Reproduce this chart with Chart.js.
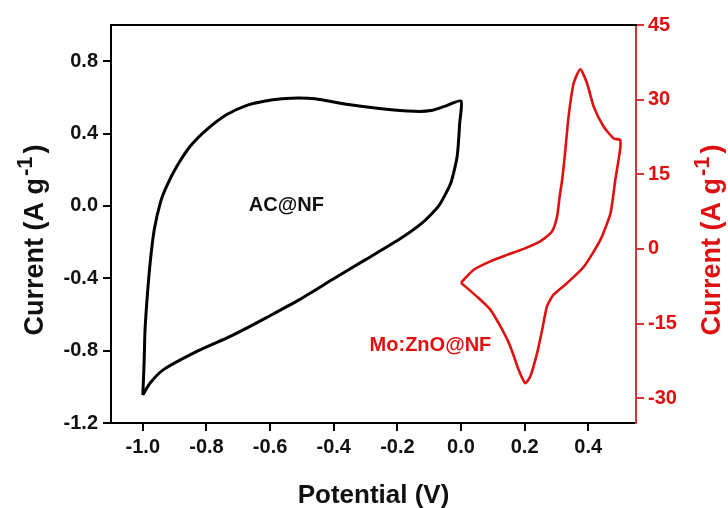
<!DOCTYPE html>
<html>
<head>
<meta charset="utf-8">
<script src="https://cdn.jsdelivr.net/npm/chart.js@4/dist/chart.umd.min.js"></script>
<style>
  html, body { margin: 0; padding: 0; background: #fff; }
  #wrap { width: 728px; height: 508px; }
</style>
</head>
<body>
<div id="wrap"><canvas id="c" width="728" height="508"></canvas></div>
<script>
// ---- data ----
const acPotential = [-1.0, -0.996, -0.993, -0.986, -0.977, -0.964, -0.945, -0.925, -0.893, -0.851, -0.799, -0.736, -0.673, -0.615, -0.563, -0.51, -0.458, -0.354, -0.25, -0.146, -0.094, -0.052, 0.0,
                     -0.004, -0.012, -0.032, -0.07, -0.122, -0.195, -0.30, -0.404, -0.508, -0.613, -0.663, -0.725, -0.83, -0.935, -0.977, -1.0];
const acCurrent   = [-1.045, -0.868, -0.684, -0.50, -0.315, -0.131, 0.017, 0.109, 0.219, 0.33, 0.422, 0.505, 0.556, 0.58, 0.592, 0.597, 0.592, 0.56, 0.537, 0.523, 0.527, 0.55, 0.58,
                     0.46, 0.275, 0.127, 0.0, -0.094, -0.186, -0.297, -0.407, -0.518, -0.619, -0.666, -0.721, -0.804, -0.905, -0.979, -1.045];

const moPotential = [0.0, 0.04, 0.092, 0.145, 0.197, 0.249, 0.286, 0.302, 0.31, 0.318, 0.328, 0.338, 0.354, 0.375, 0.396, 0.417, 0.448, 0.48, 0.50,
                     0.50, 0.485, 0.47, 0.438, 0.386, 0.333, 0.291, 0.27, 0.255, 0.239, 0.218, 0.202, 0.181, 0.155, 0.124, 0.092, 0.05, 0.0];
const moCurrent   = [-6.8, -4.2, -2.5, -1.2, 0.0, 1.5, 3.5, 6.5, 10.5, 13.9, 19.9, 26.6, 33.3, 36.1, 33.3, 28.6, 24.6, 22.2, 21.9,
                     19.9, 13.9, 7.2, 1.8, -3.6, -6.9, -9.2, -11.6, -16.3, -21.0, -25.6, -27.0, -24.3, -19.6, -15.6, -12.2, -9.6, -6.8];

const xTicks  = [-1.0, -0.8, -0.6, -0.4, -0.2, 0.0, 0.2, 0.4];
const yTicks  = [-1.2, -0.8, -0.4, 0.0, 0.4, 0.8];
const y2Ticks = [-30, -15, 0, 15, 30, 45];

const labelAC = { text: 'AC@NF', x: -0.549, y: 0.0 };
const labelMo = { text: 'Mo:ZnO@NF', x: -0.096, y: -19.5 };

const RED = '#e01010';
const RED_AXIS = '#d03838';
const FONT = "'Liberation Sans', Arial, sans-serif";

const acData = acPotential.map((x, i) => ({ x: x, y: acCurrent[i] }));
const moData = moPotential.map((x, i) => ({ x: x, y: moCurrent[i] }));

const setTicks = arr => scale => { scale.ticks = arr.map(v => ({ value: v })); };

const decor = {
  id: 'decor',
  afterDraw(chart) {
    const ctx = chart.ctx;
    const a = chart.chartArea;
    const sx = chart.scales.x, sy = chart.scales.y, sy2 = chart.scales.y2;
    ctx.save();
    // top frame line
    ctx.strokeStyle = '#000';
    ctx.lineWidth = 2;
    ctx.beginPath();
    ctx.moveTo(a.left - 1, a.top);
    ctx.lineTo(a.right + 1, a.top);
    ctx.stroke();

    // in-plot labels
    ctx.font = 'bold 20px ' + FONT;
    ctx.textAlign = 'center';
    ctx.textBaseline = 'middle';
    ctx.fillStyle = '#111';
    ctx.fillText(labelAC.text, sx.getPixelForValue(labelAC.x), sy.getPixelForValue(labelAC.y));
    ctx.fillStyle = RED;
    ctx.fillText(labelMo.text, sx.getPixelForValue(labelMo.x), sy2.getPixelForValue(labelMo.y));

    // x title
    ctx.fillStyle = '#111';
    ctx.font = 'bold 26px ' + FONT;
    ctx.textBaseline = 'alphabetic';
    ctx.fillText('Potential (V)', (a.left + a.right) / 2, 503);

    // rotated y titles with superscript
    function rotTitle(bx, cy, color) {
      const big = 'bold 27px ' + FONT;
      const small = 'bold 22px ' + FONT;
      const p1 = 'Current (A g', p2 = '-1', p3 = ')';
      ctx.save();
      ctx.translate(bx, cy);
      ctx.rotate(-Math.PI / 2);
      ctx.fillStyle = color;
      ctx.textAlign = 'left';
      ctx.textBaseline = 'alphabetic';
      ctx.font = big; const w1 = ctx.measureText(p1).width + 2;
      ctx.font = small; const w2 = ctx.measureText(p2).width + 3;
      ctx.font = big; const w3 = ctx.measureText(p3).width;
      let x0 = -(w1 + w2 + w3) / 2;
      ctx.font = big; ctx.fillText(p1, x0, 0);
      ctx.font = small; ctx.fillText(p2, x0 + w1, -11);
      ctx.font = big; ctx.fillText(p3, x0 + w1 + w2, 0);
      ctx.restore();
    }
    rotTitle(43, 240, '#111');
    rotTitle(720, 240, RED);
    ctx.restore();
  }
};

new Chart(document.getElementById('c'), {
  type: 'scatter',
  data: {
    datasets: [
      { label: 'AC@NF', data: acData, yAxisID: 'y', showLine: true, borderColor: '#000', borderWidth: 3,
        pointRadius: 0, tension: 0.2, fill: false },
      { label: 'Mo:ZnO@NF', data: moData, yAxisID: 'y2', showLine: true, borderColor: RED, borderWidth: 2.6,
        pointRadius: 0, tension: 0.2, fill: false }
    ]
  },
  options: {
    responsive: false,
    animation: false,
    events: [],
    layout: { padding: { top: 25, left: 0, right: 0, bottom: 0 } },
    plugins: { legend: { display: false }, tooltip: { enabled: false }, title: { display: false } },
    scales: {
      x: {
        type: 'linear', position: 'bottom', min: -1.1, max: 0.55,
        afterBuildTicks: setTicks(xTicks),
        afterFit: s => { s.height = 85; },
        ticks: { callback: v => v.toFixed(1), color: '#111', font: { family: FONT, size: 20, weight: 'bold' },
                 padding: 4, maxRotation: 0, autoSkip: false },
        grid: { drawOnChartArea: false, drawTicks: true, tickLength: 8, color: '#000', lineWidth: 2 },
        border: { display: true, color: '#000', width: 2 }
      },
      y: {
        type: 'linear', position: 'left', min: -1.2, max: 1.0,
        afterBuildTicks: setTicks(yTicks),
        afterFit: s => { s.width = 111; },
        ticks: { callback: v => v.toFixed(1), color: '#111', font: { family: FONT, size: 20, weight: 'bold' },
                 padding: 5, autoSkip: false },
        grid: { drawOnChartArea: false, drawTicks: true, tickLength: 8, color: '#000', lineWidth: 2 },
        border: { display: true, color: '#000', width: 2 }
      },
      y2: {
        type: 'linear', position: 'right', min: -35, max: 45,
        afterBuildTicks: setTicks(y2Ticks),
        afterFit: s => { s.width = 92; },
        ticks: { callback: v => String(v), color: RED, font: { family: FONT, size: 20, weight: 'bold' },
                 padding: 4, autoSkip: false },
        grid: { drawOnChartArea: false, drawTicks: true, tickLength: 8, color: RED_AXIS, lineWidth: 2 },
        border: { display: true, color: RED_AXIS, width: 2 }
      }
    }
  },
  plugins: [decor]
});
</script>
</body>
</html>
